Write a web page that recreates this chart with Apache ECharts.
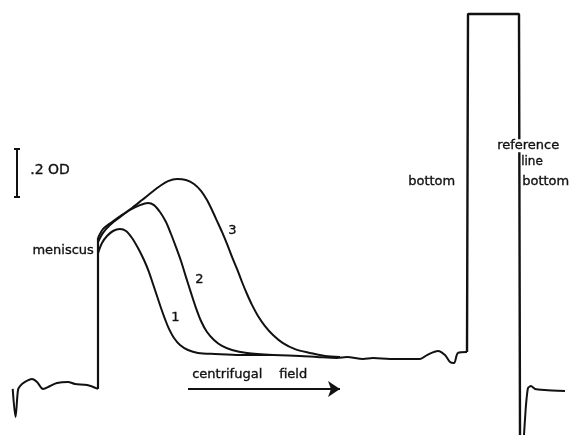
<!DOCTYPE html>
<html>
<head>
<meta charset="utf-8">
<script src="https://cdn.jsdelivr.net/npm/echarts@6/dist/echarts.min.js"></script>
<style>html,body{margin:0;padding:0;background:#fff}#c{width:572px;height:435px}</style>
</head>
<body>
<div id="c"></div>
<script>
// x: position along the cell (arbitrary scan units), y: optical density (OD)
var leftBaseline = [[1.27,0.192],[1.55,0.075],[1.8,0.1875],[2.0,0.204],[2.5,0.221],[3.2,0.233],[3.7,0.221],[4.3,0.192],[5.0,0.204],[5.7,0.217],[6.8,0.221],[7.5,0.2125],[8.7,0.208],[9.8,0.192]];
var meniscusStep = [[9.8,0.192],[9.8,0.821]];
var curve1 = [[9.8,0.758],[10.2,0.8],[10.7,0.829],[11.3,0.85],[12.0,0.858],[12.6,0.85],[13.2,0.821],[13.8,0.779],[14.4,0.729],[14.9,0.679],[15.3,0.629],[15.7,0.579],[16.1,0.529],[16.5,0.483],[16.9,0.442],[17.4,0.404],[18.0,0.375],[18.8,0.354],[19.8,0.342],[21.5,0.3375],[24.0,0.333],[27.3,0.333]];
var curve2 = [[9.8,0.804],[10.3,0.842],[11.0,0.875],[12.0,0.908],[13.0,0.9375],[14.0,0.958],[14.8,0.967],[15.4,0.958],[16.0,0.929],[16.6,0.8875],[17.1,0.8375],[17.6,0.783],[18.1,0.725],[18.6,0.658],[19.1,0.592],[19.6,0.529],[20.1,0.475],[20.7,0.429],[21.4,0.396],[22.2,0.371],[23.2,0.354],[24.7,0.342],[27.3,0.333]];
var curve3 = [[9.8,0.821],[10.3,0.858],[11.2,0.8875],[12.2,0.917],[13.2,0.946],[14.2,0.979],[15.2,1.0125],[16.0,1.0375],[16.8,1.058],[17.7,1.067],[18.6,1.0625],[19.4,1.046],[20.1,1.017],[20.7,0.979],[21.2,0.9375],[21.7,0.892],[22.2,0.846],[22.7,0.796],[23.2,0.742],[23.7,0.692],[24.2,0.6375],[24.7,0.5875],[25.2,0.542],[25.8,0.496],[26.5,0.454],[27.3,0.417],[28.3,0.383],[29.5,0.358],[31.0,0.342],[32.5,0.329],[34.0,0.325]];
var rightBaseline = [[27.3,0.333],[30.0,0.329],[31.7,0.325],[33.7,0.321],[34.7,0.325],[36.3,0.317],[37.3,0.321],[39.0,0.317],[42.0,0.317],[42.7,0.333],[43.8,0.350],[44.5,0.333],[45.0,0.304],[45.4,0.300],[45.8,0.342],[46.7,0.346]];
var cellBottom = [[46.7,0.346],[46.8,1.754],[51.9,1.754],[52.0,0]];
var referenceTrace = [[52.4,0],[52.6,0.125],[52.8,0.196],[53.1,0.204],[53.5,0.192],[54.5,0.1875],[56.5,0.183]];
var scaleBarOD = [0.992, 1.192];   // .2 OD scale bar
var scaleBarX = [1.4, 1.7, 2.0];
var fieldArrow = [[18.8,0.192],[34.0,0.192]];

var ink = '#111';
function trace(data, smooth, w) {
  return { type:'line', data:data, smooth:smooth, symbol:'none', silent:true,
    lineStyle:{ color:ink, width:w }, z:2 };
}
var chart = echarts.init(document.getElementById('c'), null, {renderer:'canvas'});
var F = '"DejaVu Sans"';
function label(pos, text, size, extra) {
  var st = { text:text, font: size + 'px ' + F, fill:ink, stroke:ink, lineWidth:0.35 };
  if (extra) for (var k in extra) st[k] = extra[k];
  var g = { type:'text', z:10, style:st };
  for (var p in pos) g[p] = pos[p];
  return g;
}
chart.setOption({
  animation:false,
  backgroundColor:'#fff',
  grid:{ left:0, right:0, top:0, bottom:0 },
  xAxis:{ type:'value', min:0, max:57.2, show:false },
  yAxis:{ type:'value', min:0, max:1.8125, show:false },
  series:[
    trace(leftBaseline, 0.3, 2),
    trace(meniscusStep, false, 2.2),
    trace(curve1, 0.3, 2),
    trace(curve2, 0.3, 2),
    trace(curve3, 0.3, 2),
    trace(rightBaseline, 0.3, 2),
    trace(cellBottom, false, 2.4),
    trace(referenceTrace, 0.2, 2),
    { type:'lines', coordinateSystem:'cartesian2d', silent:true, z:3,
      lineStyle:{ color:ink, width:2, opacity:1 },
      data:[
        { coords:[[scaleBarX[0], scaleBarOD[1]],[scaleBarX[2], scaleBarOD[1]]] },
        { coords:[[scaleBarX[1], scaleBarOD[0]],[scaleBarX[1], scaleBarOD[1]]] },
        { coords:[[scaleBarX[0], scaleBarOD[0]],[scaleBarX[2], scaleBarOD[0]]] }
      ] },
    { type:'lines', coordinateSystem:'cartesian2d', silent:true, z:3,
      symbol:['none','arrow'], symbolSize:[7,12],
      lineStyle:{ color:ink, width:2, opacity:1 },
      data:[{ coords: fieldArrow }] }
  ],
  graphic:[
    label({right:478, top:244}, 'meniscus', 13),
    label({left:30, top:163}, '.2 OD', 14),
    label({left:408, top:175}, 'bottom', 13),
    label({left:497, top:139}, 'reference', 13, {backgroundColor:'#fff'}),
    label({left:521, top:156}, 'line', 12),
    label({left:522, top:175}, 'bottom', 13),
    label({left:171, top:311}, '1', 13),
    label({left:195, top:273}, '2', 13),
    label({left:228, top:224}, '3', 13),
    label({left:192, top:368}, 'centrifugal', 13),
    label({left:279, top:368}, 'field', 13)
  ]
});
</script>
</body>
</html>
